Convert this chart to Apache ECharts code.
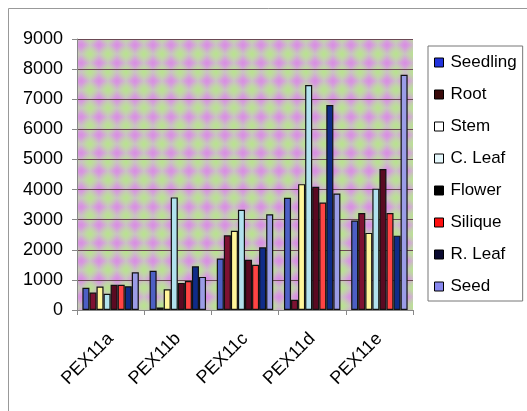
<!DOCTYPE html>
<html><head><meta charset="utf-8">
<script src="https://cdn.jsdelivr.net/npm/echarts@6/dist/echarts.min.js"></script>
<style>html,body{margin:0;padding:0;background:#fff}#c{width:527px;height:411px}</style>
</head><body><div id="c"></div>
<script>
var categories = ['PEX11a','PEX11b','PEX11c','PEX11d','PEX11e'];
var seedling = [740, 1300, 1710, 3730, 2970];
var root     = [580, 80, 2480, 340, 3220];
var stem     = [780, 690, 2630, 4180, 2560];
var cLeaf    = [540, 3740, 3330, 7470, 4030];
var flower   = [840, 900, 1670, 4090, 4680];
var silique  = [840, 960, 1500, 3570, 3220];
var rLeaf    = [790, 1450, 2080, 6810, 2470];
var seed     = [1250, 1100, 3180, 3870, 7810];
var yTicks   = [0,1000,2000,3000,4000,5000,6000,7000,8000,9000];

var seriesDefs = [
  ['Seedling', seedling, '#4d5fc4', '#2233dd'],
  ['Root', root, '#7e1232', '#3a0a0a'],
  ['Stem', stem, '#fff69a', '#ffffff'],
  ['C. Leaf', cLeaf, '#b2e2ee', '#e6f8fc'],
  ['Flower', flower, '#5a0a22', '#000000'],
  ['Silique', silique, '#ff4444', '#ff1010'],
  ['R. Leaf', rLeaf, '#102c88', '#0a0a30'],
  ['Seed', seed, '#9b9ce6', '#8888ee']
];

// background pattern
var T = 18;
var pc = document.createElement('canvas');
pc.width = T; pc.height = T;
var g = pc.getContext('2d');
g.fillStyle = '#cbc3c9'; g.fillRect(0,0,T,T);
function blob(x,y,c,c0){ var gr=g.createRadialGradient(x,y,0,x,y,T*0.55); gr.addColorStop(0,c); gr.addColorStop(1,c0); g.fillStyle=gr; g.beginPath(); g.arc(x,y,T*0.55,0,Math.PI*2); g.fill(); }
blob(T/2,T/2,'rgba(218,140,228,1)','rgba(218,140,228,0)');
[[0,0],[T,0],[0,T],[T,T]].forEach(function(p){ blob(p[0],p[1],'rgba(184,228,140,1)','rgba(184,228,140,0)'); });

var chart = echarts.init(document.getElementById('c'), null, {renderer:'canvas'});
chart.setOption({
  animation: false,
  graphic: [{type:'rect', left:6, top:6, shape:{width:540, height:420}, style:{fill:'none', stroke:'#999', lineWidth:1}, silent:true}],
  grid: {left:77, right:114, top:39, bottom:101, show:true, backgroundColor:{image:pc, repeat:'repeat'}, borderWidth:0},
  legend: {
    orient:'vertical', left:428, top:46,
    padding:[8,6,6,6], itemGap:15, itemWidth:9, itemHeight:9, icon:'rect',
    borderColor:'#777', borderWidth:1, backgroundColor:'#fff',
    textStyle:{fontFamily:'Liberation Sans', fontSize:17, color:'#000', padding:[0,0,0,2]},
    data: seriesDefs.map(function(s){return {name:s[0], itemStyle:{color:s[3], borderColor:'#000', borderWidth:1}};})
  },
  xAxis: {
    type:'category', data:categories,
    axisLine:{lineStyle:{color:'#888'}},
    axisTick:{show:true, lineStyle:{color:'#888'}},
    axisLabel:{rotate:45, fontFamily:'Liberation Sans', fontSize:18, color:'#000', margin:26}
  },
  yAxis: {
    type:'value', min:0, max:9000, interval:1000,
    axisLine:{show:true, lineStyle:{color:'#888'}},
    axisTick:{show:true, lineStyle:{color:'#888'}},
    splitLine:{lineStyle:{color:'#6b4a55', width:1}},
    axisLabel:{fontFamily:'Liberation Sans', fontSize:18, color:'#000', margin:14,
      formatter:function(v){ return yTicks.indexOf(v) >= 0 ? String(v) : ''; }}
  },
  series: seriesDefs.map(function(s){
    return {name:s[0], type:'bar', data:s[1], barGap:'0%', barCategoryGap:'16%',
      itemStyle:{color:s[2], borderColor:'#111', borderWidth:1.2}};
  })
});
</script></body></html>
